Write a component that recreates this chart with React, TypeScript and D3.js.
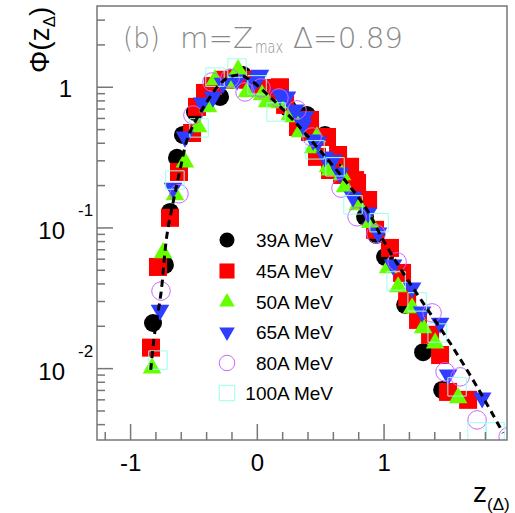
import React from 'react';
import * as d3 from 'd3';

// values: [z, phi]
const mev39: [number, number][] = [
  [-0.823, 0.0211], [-0.729, 0.0546], [-0.689, 0.130], [-0.634, 0.315], [-0.587, 0.458],
  [-0.492, 0.667], [-0.389, 0.839], [-0.294, 0.853], [-0.200, 1.13], [-0.113, 1.22],
  [0.006, 1.04], [0.116, 0.882], [0.242, 0.712], [0.361, 0.605], [0.392, 0.635],
  [0.495, 0.443], [0.534, 0.458], [0.629, 0.304], [0.732, 0.219], [0.771, 0.202],
  [0.850, 0.120], [0.937, 0.0893], [1.008, 0.0622], [1.166, 0.0284], [1.308, 0.0131],
  [1.458, 0.00706],
];
const mev45: [number, number][] = [
  [-0.839, 0.0141], [-0.784, 0.0528], [-0.689, 0.118], [-0.618, 0.250], [-0.515, 0.473],
  [-0.476, 0.725], [-0.413, 0.911], [-0.350, 1.02], [-0.263, 1.13], [-0.168, 1.16],
  [-0.073, 1.13], [0.037, 0.989], [0.132, 0.853], [0.179, 1.00], [0.219, 0.749],
  [0.321, 0.522], [0.416, 0.586], [0.416, 0.481], [0.471, 0.320], [0.550, 0.443],
  [0.574, 0.258], [0.637, 0.330], [0.668, 0.238], [0.732, 0.272], [0.771, 0.219],
  [0.787, 0.209], [0.874, 0.158], [0.929, 0.097], [1.047, 0.0721], [1.142, 0.0479],
  [1.182, 0.0323], [1.268, 0.0222], [1.363, 0.0174], [1.442, 0.0125], [1.505, 0.00683],
  [1.663, 0.00600],
];
const mev50: [number, number][] = [
  [-0.831, 0.0101], [-0.744, 0.0665], [-0.650, 0.172], [-0.571, 0.294], [-0.468, 0.522],
  [-0.389, 0.725], [-0.334, 1.13], [-0.215, 1.07], [-0.152, 1.33], [-0.081, 0.926],
  [0.037, 0.882], [0.077, 0.786], [0.179, 0.774], [0.258, 0.635], [0.282, 0.615],
  [0.337, 0.481], [0.440, 0.371], [0.471, 0.443], [0.558, 0.272], [0.574, 0.258],
  [0.668, 0.238], [0.692, 0.196], [0.794, 0.146], [0.890, 0.109], [1.032, 0.0520],
  [1.111, 0.0381], [1.221, 0.0270], [1.308, 0.0195], [1.403, 0.0152], [1.584, 0.00620],
];
const mev65: [number, number][] = [
  [-0.768, 0.0261], [-0.665, 0.192], [-0.571, 0.443], [-0.436, 0.774], [-0.350, 0.853],
  [-0.271, 1.07], [-0.160, 1.13], [-0.034, 1.07], [0.006, 1.16], [0.021, 1.22],
  [0.179, 0.882], [0.234, 0.853], [0.298, 0.690], [0.361, 0.540], [0.376, 0.615],
  [0.440, 0.422], [0.479, 0.409], [0.534, 0.320], [0.597, 0.304], [0.653, 0.246],
  [0.755, 0.166], [0.874, 0.128], [0.953, 0.0923], [1.071, 0.0546], [1.221, 0.0375],
  [1.300, 0.0253], [1.442, 0.0211], [1.505, 0.00903], [1.774, 0.00620],
];
const mev80: [number, number][] = [
  [-0.760, 0.0356], [-0.618, 0.175], [-0.508, 0.635], [-0.358, 1.09], [-0.215, 1.16],
  [-0.097, 0.926], [0.029, 0.989], [0.171, 0.839], [0.313, 0.690], [0.432, 0.443],
  [0.660, 0.192], [0.787, 0.120], [0.937, 0.0908], [1.103, 0.0574], [1.379, 0.0249],
  [1.481, 0.0095], [1.600, 0.00874], [1.734, 0.00432], [1.979, 0.00328],
];
const mev100: [number, number][] = [
  [-0.784, 0.0115], [-0.650, 0.219], [-0.460, 0.514], [-0.334, 1.18], [-0.160, 1.37],
  [-0.002, 1.04], [0.148, 0.667], [0.455, 0.359], [0.613, 0.272], [0.755, 0.146],
  [0.961, 0.109], [1.095, 0.0420], [1.261, 0.0298], [1.419, 0.0179], [1.576, 0.00742],
  [1.734, 0.00355], [1.876, 0.00355],
];
// dashed scaling curve
const fitCurve: [number, number][] = [
  [-0.841, 0.0098], [-0.807, 0.0188], [-0.760, 0.0345], [-0.715, 0.0867], [-0.665, 0.151],
  [-0.610, 0.258], [-0.547, 0.443], [-0.452, 0.656], [-0.389, 0.812], [-0.318, 1.0],
  [-0.239, 1.16], [-0.137, 1.22], [-0.058, 1.13], [0.100, 0.853], [0.282, 0.586],
  [0.471, 0.376], [0.708, 0.209], [0.866, 0.134], [0.992, 0.0822], [1.150, 0.0479],
  [1.308, 0.0293], [1.521, 0.0152], [1.734, 0.00742], [1.939, 0.00349],
];

const seriesNames = ['39A MeV', '45A MeV', '50A MeV', '65A MeV', '80A MeV', '100A MeV'];
const seriesData = [mev39, mev45, mev50, mev65, mev80, mev100];
const xTickMajor = [-1, 0, 1];
const yTickMajor = [1, 0.1, 0.01];
const yTickLabels = [['1', ''], ['10', '-1'], ['10', '-2']];

const W = 515, H = 513;
const left = 97, top = 6, right = 507, bottom = 440;
const axisCol = '#777';
const font = '"Liberation Sans", Arial, sans-serif';

// marker styles per series
const styles = [
  { type: d3.symbolCircle, fill: '#000', stroke: 'none', rot: 0, size: 254 },
  { type: d3.symbolSquare, fill: '#ff0000', stroke: 'none', rot: 0, size: 324 },
  { type: d3.symbolTriangle, fill: '#66ff00', stroke: 'none', rot: 0, size: 150 },
  { type: d3.symbolTriangle, fill: '#2f3dff', stroke: 'none', rot: 180, size: 150 },
  { type: d3.symbolCircle, fill: 'none', stroke: '#cc66ff', rot: 0, size: 270 },
  { type: d3.symbolSquare, fill: 'none', stroke: '#99ffee', rot: 0, size: 340 },
];

export default function App() {
  const x = d3.scaleLinear().domain([-1.265, 1.97]).range([left, right]);
  const y = d3.scaleLog().domain([0.00311, 3.78]).range([bottom, top]);

  const xMinor = d3.range(-12, 19, 2).map(v => v / 10).filter(v => !xTickMajor.includes(v));
  const yMinor: number[] = [];
  [0.001, 0.01, 0.1, 1].forEach(d => {
    for (let k = 2; k <= 9; k++) {
      const v = d * k;
      if (v > 0.00311 && v < 3.78) yMinor.push(v);
    }
  });

  const line = d3.line<[number, number]>()
    .x(d => x(d[0]))
    .y(d => y(d[1]))
    .curve(d3.curveCatmullRom);

  const sym = (i: number, scale = 1) =>
    d3.symbol().type(styles[i].type).size(styles[i].size * scale)() as string;

  const legendRows = [240, 271, 302, 332, 363, 393];

  return (
    <div style={{ position: 'absolute', left: 0, top: 0 }}>
      <svg width={W} height={H} style={{ display: 'block', background: '#fff' }}>
        <defs>
          <clipPath id="plotClip">
            <rect x={left} y={top} width={right - left} height={bottom - top} />
          </clipPath>
        </defs>

        {/* data markers */}
        <g clipPath="url(#plotClip)">
          {seriesData.map((data, i) => (
            <g key={i}>
              {data.map((d, j) => (
                <path
                  key={j}
                  d={sym(i)}
                  transform={`translate(${x(d[0])},${y(d[1])}) rotate(${styles[i].rot})`}
                  fill={styles[i].fill}
                  stroke={styles[i].stroke}
                  strokeWidth={1}
                />
              ))}
            </g>
          ))}
          <path d={line(fitCurve) as string} fill="none" stroke="#000" strokeWidth={3} strokeDasharray="7,5" />
        </g>

        {/* frame */}
        <rect x={left} y={top} width={right - left} height={bottom - top} fill="none" stroke={axisCol} strokeWidth={1.5} />

        {/* x ticks */}
        {xTickMajor.map(v => (
          <g key={'xM' + v}>
            <line x1={x(v)} x2={x(v)} y1={bottom} y2={bottom - 16} stroke={axisCol} strokeWidth={1.5} />
            <text x={x(v)} y={471} textAnchor="middle" fontFamily={font} fontSize={24}>{v < 0 ? '-' + Math.abs(v) : v}</text>
          </g>
        ))}
        {xMinor.map(v => (
          <line key={'xm' + v} x1={x(v)} x2={x(v)} y1={bottom} y2={bottom - 8} stroke={axisCol} strokeWidth={1.5} />
        ))}

        {/* y ticks */}
        {yTickMajor.map((v, i) => (
          <g key={'yM' + v}>
            <line x1={left} x2={left + 16} y1={y(v)} y2={y(v)} stroke={axisCol} strokeWidth={1.5} />
            {yTickLabels[i][1] === '' ? (
              <text x={72} y={y(v) + 10} textAnchor="end" fontFamily={font} fontSize={24}>{yTickLabels[i][0]}</text>
            ) : (
              <g>
                <text x={65} y={y(v) + 11} textAnchor="end" fontFamily={font} fontSize={24}>{yTickLabels[i][0]}</text>
                <text x={78} y={y(v) - 12} textAnchor="start" fontFamily={font} fontSize={17}>{yTickLabels[i][1]}</text>
              </g>
            )}
          </g>
        ))}
        {yMinor.map(v => (
          <line key={'ym' + v} x1={left} x2={left + 8} y1={y(v)} y2={y(v)} stroke={axisCol} strokeWidth={1.5} />
        ))}

        {/* axis titles */}
        <text x={473} y={502} fontFamily={font} fontSize={28}>z</text>
        <text x={487} y={510} fontFamily={font} fontSize={17}>(Δ)</text>
        <g transform="translate(49,73) rotate(-90)">
          <text x={0} y={0} fontFamily={font} fontSize={28}>
            Φ(z<tspan fontSize={17} dy={6}>Δ</tspan><tspan dy={-6}>)</tspan>
          </text>
        </g>

        {/* title */}
        <g fill="#888" fontFamily='"DejaVu Sans", sans-serif' fontWeight={200}>
          <text x={123} y={48} fontSize={29} textLength={37} lengthAdjust="spacingAndGlyphs">(b)</text>
          <text x={180} y={48} fontSize={29} textLength={73} lengthAdjust="spacingAndGlyphs">m=Z</text>
          <text x={255} y={53} fontSize={17} textLength={28} lengthAdjust="spacingAndGlyphs">max</text>
          <text x={293} y={48} fontSize={29} textLength={110} lengthAdjust="spacingAndGlyphs">Δ=0.89</text>
        </g>

        {/* legend */}
        {seriesNames.map((name, i) => (
          <g key={name}>
            <path
              d={sym(i, 0.7)}
              transform={`translate(227,${legendRows[i]}) rotate(${styles[i].rot})`}
              fill={styles[i].fill}
              stroke={styles[i].stroke}
              strokeWidth={1}
            />
            <text x={333} y={legendRows[i] + 7} textAnchor="end" fontFamily={font} fontSize={19}>{name}</text>
          </g>
        ))}
      </svg>
    </div>
  );
}
